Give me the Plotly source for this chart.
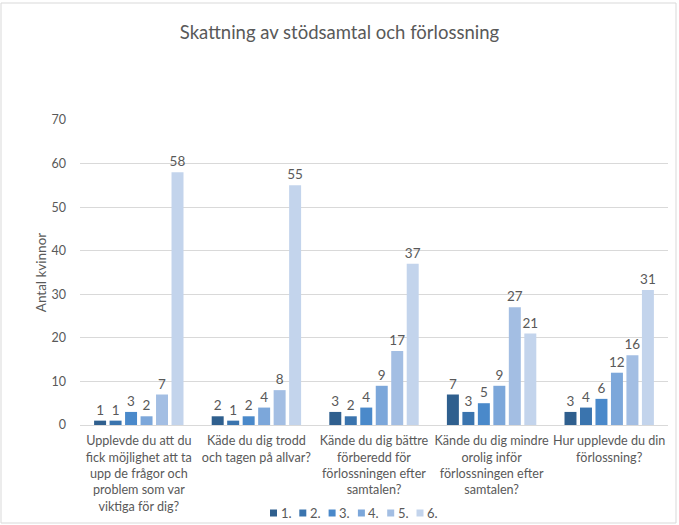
import plotly.graph_objects as go

categories = [
    "Upplevde du att du<br>fick möjlighet att ta<br>upp de frågor och<br>problem som var<br>viktiga för dig?",
    "Käde du dig trodd<br>och tagen på allvar?",
    "Kände du dig bättre<br>förberedd för<br>förlossningen efter<br>samtalen?",
    "Kände du dig mindre<br>orolig inför<br>förlossningen efter<br>samtalen?",
    "Hur upplevde du din<br>förlossning?",
]
series_names = ["1.", "2.", "3.", "4.", "5.", "6."]
s1 = [1, 2, 3, 7, 3]
s2 = [1, 1, 2, 3, 4]
s3 = [3, 2, 4, 5, 6]
s4 = [2, 4, 9, 9, 12]
s5 = [7, 8, 17, 27, 16]
s6 = [58, 55, 37, 21, 31]
series_values = [s1, s2, s3, s4, s5, s6]
colors = ["#2F5F8E", "#3A74AE", "#4A89CA", "#7CA7DA", "#A3BEE3", "#C3D4EC"]

FONT = "Lato"
TXT = "#595959"

fig = go.Figure()
for name, vals, c in zip(series_names, series_values, colors):
    fig.add_trace(go.Bar(
        x=categories, y=vals, name=name, marker=dict(color=c, line=dict(width=0)),
        text=[str(v) for v in vals], textposition="outside", cliponaxis=False,
        constraintext="none", textangle=0,
        textfont=dict(family=FONT, size=13.5, color=TXT),
        showlegend=False, hoverinfo="skip",
    ))

W, H = 679, 525
L, R, T, B = 80, 11, 120, 100
pw = W - L - R
ph = H - T - B

def px(x):
    return (x - L) / pw

def py(y):
    return (H - B - y) / ph

shapes = [dict(type="rect", xref="paper", yref="paper",
               x0=px(1), x1=px(676), y0=py(523), y1=py(3),
               line=dict(color="#D9D9D9", width=1), fillcolor="rgba(0,0,0,0)", layer="below")]
annotations = []
# custom compact legend
x_start, step, ly = 270, 29.3, 513
for i, (name, c) in enumerate(zip(series_names, colors)):
    x0 = x_start + i * step
    shapes.append(dict(type="rect", xref="paper", yref="paper",
                       x0=px(x0), x1=px(x0 + 7), y0=py(ly + 3.5), y1=py(ly - 3.5),
                       line=dict(width=0), fillcolor=c))
    annotations.append(dict(text=name, xref="paper", yref="paper", x=px(x0 + 8.5), y=py(ly),
                            xanchor="left", yanchor="middle", showarrow=False,
                            font=dict(family=FONT, size=13, color=TXT)))

fig.update_layout(
    width=W, height=H,
    margin=dict(l=L, r=R, t=T, b=B, pad=0),
    paper_bgcolor="white", plot_bgcolor="white",
    barmode="group", bargap=0.21, bargroupgap=0.226,
    font=dict(family=FONT, color=TXT, size=12),
    title=dict(text="Skattning av stödsamtal och förlossning", x=0.5, xanchor="center",
               y=1 - 33 / H, yanchor="middle",
               font=dict(family=FONT, size=18.5, color=TXT)),
    yaxis=dict(range=[0, 70], dtick=10, showgrid=True, gridcolor="#D9D9D9", gridwidth=1,
               zeroline=False, showline=False, ticks="", ticklabelstandoff=13,
               automargin=False,
               tickfont=dict(family=FONT, size=12.5, color=TXT),
               title=dict(text="Antal kvinnor", standoff=1,
                          font=dict(family=FONT, size=13.5, color=TXT))),
    xaxis=dict(showline=True, linecolor="#D9D9D9", linewidth=1, ticks="", automargin=False,
               ticklabelstandoff=4,
               tickfont=dict(family=FONT, size=12.6, color=TXT), tickangle=0),
    showlegend=False,
    hovermode=False,
    shapes=shapes,
    annotations=annotations,
)

fig.write_html("out.html", config={"displayModeBar": False, "staticPlot": True},
               post_script="document.body.style.margin='0';document.body.style.padding='0';document.body.style.overflow='hidden';")
